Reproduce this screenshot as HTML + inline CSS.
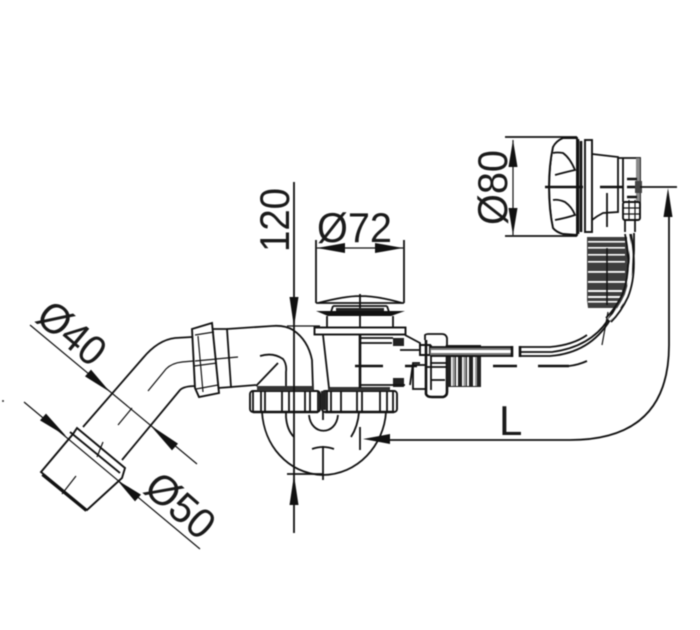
<!DOCTYPE html>
<html>
<head>
<meta charset="utf-8">
<style>
html,body{margin:0;padding:0;background:#fff;width:700px;height:630px;overflow:hidden}
svg{display:block;filter:blur(.4px)}
text{font-family:"Liberation Sans",sans-serif;font-size:42px;fill:#1a1a1a}
.l{fill:none;stroke:#111;stroke-width:1.8}
.t{fill:none;stroke:#111;stroke-width:1.2}
.k{fill:none;stroke:#111;stroke-width:2.6}
.w{fill:#fff;stroke:#111;stroke-width:1.9}
.a{fill:#111;stroke:none}
</style>
</head>
<body>
<svg width="700" height="630" viewBox="0 0 700 630" xmlns="http://www.w3.org/2000/svg">
<rect width="700" height="630" fill="#fff"/>

<!-- Left elbow pipe -->
<path class="l" d="M83 427L143 358Q158 340 175 338L192 337"/>
<path class="l" d="M122 460L180 390Q184 386 196 386"/>
<path class="t" d="M148 391L166 369Q172 363 182 362L238 357"/>
<path class="t" d="M132 408L118 425"/>
<!-- collar and socket -->
<path class="w" d="M41 472L73 434L77 428L125 468L122 478L87 510Z"/>
<path class="l" d="M70 432L120 473M42 475L86 511"/>
<path class="t" d="M103 442L97 457M76 476L62 494"/>

<!-- Ø40 / Ø50 dimensions -->
<path class="t" d="M30 325L197 464"/>
<path class="a" d="M110 392L91 369.600L85 376.400Z"/>
<path class="a" d="M150 425L178 443.600L172 450.400Z"/>
<path class="t" d="M24 402L200 549"/>
<path class="a" d="M66 436L46 413.600L40 420.400Z"/>
<path class="a" d="M117 480L141 494.600L135 501.400Z"/>
<text x="0" y="0" transform="translate(34 320) rotate(40)" textLength="75" lengthAdjust="spacingAndGlyphs">Ø40</text>
<text x="0" y="0" transform="translate(142 491) rotate(41)" textLength="77" lengthAdjust="spacingAndGlyphs">Ø50</text>
<circle cx="3" cy="401" r="1" fill="#333"/>

<!-- Left union nut -->
<path class="w" d="M192 329L212 323L219 393L199 397L195 388Z"/>
<path class="l" d="M213 329L227 329L231 387L218 388"/>
<path class="t" d="M195 335L214 332M196 389L218 385M195 361L217 359M194 366L217 363M198 336L203 392"/>
<path class="l" d="M227 329L272 326Q285 325 293 330Q308 340 312 360L313 390"/>
<path class="l" d="M231 387L256 385"/>
<path class="l" d="M256 386L278 363"/>
<path class="l" d="M260 356Q273 352 283 359Q287 364 286 372L286 417Q287 430 294 437"/>

<!-- Bowl -->
<path class="l" d="M262 412C264 445 287 473 322 475C358 475 384 445 386 412"/>
<path class="l" d="M309 415C311 436 336 436 338 415"/>
<path class="l" d="M312 449Q323 445 334 449"/>
<path class="l" d="M359 412Q358 426 351 437"/>
<path class="l" d="M323 406V420M323 446V480M287 474H322M360 427V450"/>

<!-- Horizontal nuts -->
<rect class="w" x="250" y="391" width="70" height="21" rx="3"/>
<rect class="w" x="322" y="391" width="75" height="21" rx="3"/>
<path fill="#333" d="M257 386H313V391H257ZM328 387H390V391H328Z"/>
<path class="l" d="M253 391V411M261 391V411M265 391V411M282 391V411M289 391V411M305 391V411M310 391V411M318 391V411"/>
<path class="l" d="M327 391V411M331 391V411M341 391V411M357 391V411M362 391V411M380 391V411M387 391V411M393 391V411"/>
<path class="k" d="M253 412H318M325 412H394"/>
<path fill="#222" d="M321 391H326V410H321Z"/>

<!-- Vertical 120 dimension -->
<path class="l" d="M294 182V533"/>
<path class="a" d="M289.500 297H298.500L294 327Z"/>
<path class="a" d="M289.500 505H298.500L294 475Z"/>
<path class="t" d="M287 326H320"/>
<text x="0" y="0" transform="translate(289 252) rotate(-90)" textLength="64" lengthAdjust="spacingAndGlyphs">120</text>

<!-- Ø72 -->
<text x="317" y="242" textLength="75" lengthAdjust="spacingAndGlyphs">Ø72</text>
<path class="l" d="M316 240V303M404 240V303M316 303H404"/>
<path class="t" d="M317 248H403"/>
<path class="a" d="M317 248L345 243V253Z"/>
<path class="a" d="M403 248L375 243V253Z"/>

<!-- Drain flange -->
<path class="l" d="M318 303Q345 296 360 296Q378 296 402 303M360 294V328"/>
<path class="l" d="M333 306H387M333 306L331 312M387 306L389 312"/>
<path fill="#222" d="M336 308H384V312H336Z"/>
<path fill="#111" d="M316 311H405L391 316H328Z"/>
<path class="l" d="M327 316V327M393 316V327"/>
<rect class="w" x="314.500" y="327.500" width="91" height="7" stroke-width="2"/>
<path class="l" d="M323 335L329 388"/>
<path class="k" d="M360 335V388"/>
<path class="l" d="M361 338H393M361 343H392"/>
<path fill="#222" d="M393 338H404V346H393ZM393 378H404V387H393Z"/>
<path class="l" d="M405 335L420 343V347M420 363H413L410 385M360 385H405"/>
<path class="w" d="M420 345H430V355H420Z"/>
<path class="k" d="M355 366H383M405 366H417"/>
<path class="l" d="M400 350H420"/>

<!-- Right union nut + thread -->
<path class="l" d="M425 340V335Q426 334 428 334H442Q446 334 447 338V345"/>
<path class="k" d="M426 340V394Q427 397 432 397H443Q447 396 447 392V345"/>
<path class="l" d="M431 345V390M425 367H446M431 380H445M430 363H446"/>
<rect class="l" x="413" y="365" width="13" height="24"/>
<path fill="#222" d="M447 345H481V387H447Z"/>
<path fill="#fff" d="M451 357H452.500V386H451ZM456 357H458V386H456ZM462 357H463.500V386H462ZM467 357H469V386H467ZM473 357H475V386H473Z"/>
<path fill="#9a9a9a" d="M452.500 357H455V386H452.500ZM463.500 357H466V386H463.500ZM475 357H477V386H475Z"/>

<!-- Flexible tube -->
<path fill="#777" d="M430 347H512V356H430Z"/>
<path fill="#fff" d="M431 350H511V353H431Z"/>
<path class="l" d="M430 347H512M430 356H512"/>
<path class="k" d="M512 346V357M520 346V357"/>
<path class="l" d="M520 347H550Q573 345 587 335"/>
<path class="l" d="M520 356H550Q590 353 610 320Q633 290 634 250V233"/>
<path class="l" d="M520 352H552Q590 347 608 320Q626 295 630 250V234"/>
<path class="t" d="M608 312L602 345"/>

<!-- Dashed axis -->
<path class="k" d="M493 366H517M538 366H569"/>
<path class="l" d="M569 366Q578 365 587 361"/>

<!-- Corrugated sleeve -->
<path fill="#3d3d3d" d="M587 237H627V290L622 308H588L587 300Z"/>
<g fill="#fff">
<rect x="588" y="241" width="37" height="1.6"/>
<rect x="588" y="247" width="37" height="1.6"/>
<rect x="588" y="254" width="37" height="1.6"/>
<rect x="588" y="261" width="37" height="1.6"/>
<rect x="588" y="271" width="37" height="1.8"/>
<rect x="588" y="281" width="37" height="1.8"/>
<rect x="588" y="290" width="34" height="2"/>
<rect x="588" y="296" width="33" height="2"/>
<rect x="588" y="301" width="30" height="1.6"/>
</g>
<path d="M607 248V305" stroke="#111" stroke-width="1.5"/>
<path d="M628 234Q635 270 626 295Q619 310 609 320" fill="none" stroke="#fff" stroke-width="2.500"/>
<path class="l" d="M625 234Q632 268 623 293Q616 308 606 318"/>
<path class="l" d="M631 234Q638 272 628 297Q621 312 611 322"/>

<!-- Overflow head -->
<path class="l" d="M505 137H577M505 236H577"/>
<path class="t" d="M513 140V235"/>
<path class="a" d="M513 140L508.500 167H517.500Z"/>
<path class="a" d="M513 235L508.500 208H517.500Z"/>
<text x="0" y="0" transform="translate(507 225) rotate(-90)" textLength="75" lengthAdjust="spacingAndGlyphs">Ø80</text>

<path class="w" d="M577 138H563Q556 141 553 147Q549 165 549 187Q549 210 553 228Q556 232 563 234L577 235Z"/>
<path class="t" d="M553 147Q546 187 553 228"/>
<path class="l" d="M553 153Q557 152 563 153Q570 158 575 170Q566 172 555 175"/>
<path class="l" d="M553 200Q558 199 565 202Q572 207 575 215Q566 218 555 220"/>
<path class="k" d="M578 139V234M581 141V232"/>
<rect class="w" x="585" y="140" width="7" height="92" stroke-width="2"/>
<path class="l" d="M592 154L618 157V212L603 213Q597 216 592 220"/>
<path class="l" d="M618 158H640V208M623 158V202"/>
<path fill="#8a8a8a" d="M636 158H640V204H636Z"/>
<path class="k" d="M545 187H583M600 187H623M627 187H637"/>
<path fill="#444" d="M635 181H642V193H635Z"/>
<path class="k" d="M627 179H637M627 197H637"/>
<path class="l" d="M607 193V227"/>
<rect class="w" x="623" y="202" width="17" height="18" rx="2"/>
<path class="t" d="M623 208H640M623 214H640M629 200V220M635 200V220"/>
<path class="l" d="M625 220V232M635 220V232"/>

<!-- L dimension -->
<path class="l" d="M640 187H677"/>
<path class="a" d="M668 188L663.500 217H672.500Z"/>
<path class="l" d="M669 217V345Q669 440 570 440H390"/>
<path class="a" d="M363 439L390 434V444Z"/>
<text x="499" y="435">L</text>
</svg>
</body>
</html>
